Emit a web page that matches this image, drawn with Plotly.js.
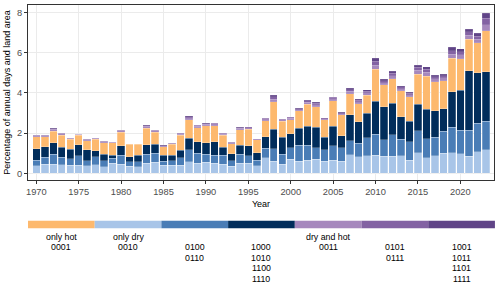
<!DOCTYPE html>
<html><head><meta charset="utf-8">
<script src="https://cdn.plot.ly/plotly-3.0.1.min.js"></script>
<style>html,body{margin:0;padding:0;background:#fff}</style>
</head><body><div id="chart" style="width:500px;height:287px"></div>
<script>
const years = [1970,1971,1972,1973,1974,1975,1976,1977,1978,1979,1980,1981,1982,1983,1984,1985,1986,1987,1988,1989,
1990,1991,1992,1993,1994,1995,1996,1997,1998,1999,2000,2001,2002,2003,2004,2005,2006,2007,2008,2009,
2010,2011,2012,2013,2014,2015,2016,2017,2018,2019,2020,2021,2022,2023];

// only dry (0010)
const onlyDry = [.38,.45,.46,.43,.41,.40,.38,.43,.33,.50,.46,.36,.33,.51,.55,.41,.40,.41,.58,.50,
.56,.50,.46,.35,.51,.51,.39,.78,.61,.46,.70,.61,.65,.70,.61,.66,.61,.93,.83,.88,
.91,.84,.84,.88,.66,1.03,.78,.88,1.01,1.03,.98,.84,1.08,1.16];
// 0100 / 0110
const b0100 = [.28,.34,.50,.36,.32,.48,.25,.40,.30,.25,.43,.22,.25,.45,.44,.20,.23,.37,.58,.49,
.40,.41,.45,.28,.45,.37,.26,.46,.60,.48,.57,.78,.74,.57,.55,.70,.66,.69,.66,.89,
1.04,.82,1.08,.81,.90,1.09,.94,.91,1.08,1.27,1.16,1.31,1.40,1.42];
// 1000 / 1010 / 1100 / 1110
const b1000 = [.55,.53,.56,.50,.46,.53,.53,.30,.31,.14,.47,.25,.31,.46,.45,.30,.26,.36,.59,.58,
.56,.65,.38,.35,.43,.48,.38,.58,.98,.86,.70,.85,.96,1.01,.63,.99,.60,1.28,1.08,1.21,
1.64,1.65,1.56,1.12,1.04,1.32,1.46,1.31,1.12,1.76,1.98,2.95,2.52,2.47];
// only hot (0001)
const onlyHot = [.61,.50,.58,.60,.50,.48,.46,.56,.58,.62,.69,.61,.55,.82,.61,.41,.55,.75,.90,.70,
.85,.81,.60,.49,.78,.83,.64,.80,1.37,.78,.68,.86,1.09,1.03,.86,1.26,1.03,1.06,.89,.91,
1.59,1.08,1.21,1.30,1.21,1.49,1.65,1.45,1.39,1.65,1.56,1.57,1.49,2.02];
// dry and hot (0011)
const dryHot = [.05,.05,.08,.07,.05,.04,.045,.05,.045,.04,.06,.02,.02,.09,.06,.045,.035,.06,.11,.08,
.07,.09,.06,.045,.07,.08,.04,.08,.13,.07,.08,.07,.10,.10,.07,.10,.07,.12,.10,.11,
.20,.12,.16,.10,.09,.18,.19,.14,.14,.21,.20,.19,.18,.32];
// 0101 / 0111
const b0101 = [.02,.02,.03,.03,.02,.015,.018,.02,.018,.015,.03,.007,.007,.045,.03,.018,.01,.03,.06,.035,
.03,.04,.03,.018,.03,.035,.015,.04,.11,.035,.045,.04,.06,.07,.03,.06,.04,.08,.07,.08,
.18,.09,.13,.08,.07,.15,.15,.11,.11,.18,.17,.16,.15,.30];
// 1001 / 1011 / 1101 / 1111
const b1001 = [.01,.01,.02,.01,.01,.005,.007,.01,.007,.005,.01,.003,.003,.025,.01,.007,.005,.01,.04,.015,
.01,.02,.01,.007,.01,.015,.005,.02,.09,.015,.025,.02,.04,.05,.01,.04,.02,.06,.05,.06,
.15,.07,.10,.05,.05,.12,.13,.08,.08,.16,.14,.13,.13,.26];

// legend categories (left to right)
const legendColors = ['#FDB96E','#A8C5E8','#4A7DB6','#012D5B','#A688BD','#8362A3','#604487'];
const legendNames = ['only hot','only dry','','','dry and hot','',''];
const legendCodes = [['0001'],['0010'],['0100','0110'],['1000','1010','1100','1110'],['0011'],['0101','0111'],['1001','1011','1101','1111']];

const stackSeries = [
  {name:'0010', y:onlyDry, c:legendColors[1]},
  {name:'0100', y:b0100, c:legendColors[2]},
  {name:'1000', y:b1000, c:legendColors[3]},
  {name:'0001', y:onlyHot, c:legendColors[0]},
  {name:'0011', y:dryHot, c:legendColors[4]},
  {name:'0101', y:b0101, c:legendColors[5]},
  {name:'1001', y:b1001, c:legendColors[6]}
];

const traces = stackSeries.map((s,k) => ({
  type:'bar', x:years, y:s.y, name:s.name, showlegend:false,
  marker:{color:s.c, line:{color:'rgba(255,255,255,0.8)', width:k>=4 ? 0.15 : 0.3}},
  width:0.88, hoverinfo:'skip'
}));

const font = {family:'Liberation Sans, Arial, sans-serif', size:9, color:'#000'};
const plotTop = 5, plotBottom = 180, plotH = plotBottom - plotTop;
const py = px => (plotBottom - px) / plotH;

const shapes = [];
const annotations = [];
const n = legendColors.length;
legendColors.forEach((c,i) => {
  shapes.push({type:'rect', xref:'paper', yref:'paper', x0:i/n*1.002, x1:(i+1)/n*1.002,
    y0:py(228.3), y1:py(220.7), fillcolor:c, line:{width:0}, layer:'above'});
  const xc = (i+0.5)/n*1.002;
  if (legendNames[i]) annotations.push({xref:'paper', yref:'paper', x:xc, y:py(236.7), text:legendNames[i],
    showarrow:false, xanchor:'center', yanchor:'middle', font:{...font, size:8.8}});
  legendCodes[i].forEach((t,j) => annotations.push({xref:'paper', yref:'paper', x:xc, y:py(247 + j*10.67), text:t,
    showarrow:false, xanchor:'center', yanchor:'middle', font:{...font, size:8.8}}));
});

const layout = {
  width:500, height:287,
  margin:{l:28, r:6, t:5, b:107},
  paper_bgcolor:'#fff', plot_bgcolor:'#fff',
  barmode:'stack', font:font,
  xaxis:{range:[1969.02,2023.97], tick0:1970, dtick:5, ticks:'outside', ticklen:3, tickcolor:'#333',
    showgrid:true, gridcolor:'#EBEBEB', gridwidth:1, zeroline:false,
    showline:true, mirror:true, linecolor:'#333', linewidth:1,
    tickfont:{...font, size:9.3, color:'#4D4D4D'},
    title:{text:'Year', font:{...font, size:9}, standoff:4}},
  yaxis:{range:[-0.33,8.36], tick0:0, dtick:2, ticks:'outside', ticklen:3, tickcolor:'#333',
    showgrid:true, gridcolor:'#EBEBEB', gridwidth:1, zeroline:false,
    showline:true, mirror:true, linecolor:'#333', linewidth:1,
    tickfont:{...font, size:9.3, color:'#4D4D4D'},
    title:{text:'Percentage of annual days and land area', font:{...font, size:9}, standoff:4}},
  shapes:shapes, annotations:annotations
};

Plotly.newPlot('chart', traces, layout, {displayModeBar:false, staticPlot:true});
</script></body></html>
